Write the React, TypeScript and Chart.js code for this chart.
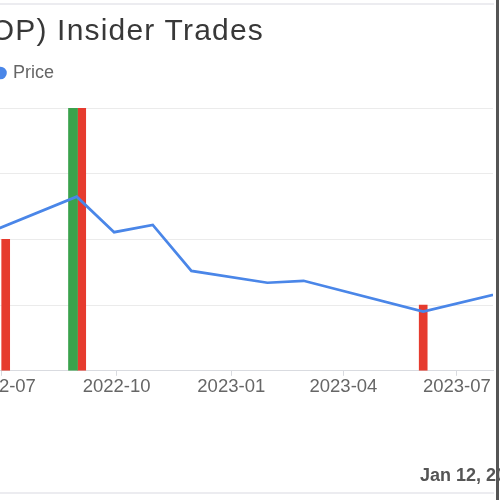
import React, { useEffect, useRef } from "react";
import { Chart, registerables } from "chart.js";

Chart.register(...registerables);

// ---- data ----
const priceDates = ["2022-06-03", "2022-08-30", "2022-09-29", "2022-10-30", "2022-11-30", "2023-01-30", "2023-02-28", "2023-06-04", "2023-08-15"];
const priceValues = [19.7, 26.5, 21.1, 22.2, 15.2, 13.4, 13.7, 9.0, 12.3];

const sellDates = ["2022-07-04", "2022-09-03", "2023-06-04"];
const sellValues = [20, 40, 10];

const buyDates = ["2022-08-27"];
const buyValues = [40];

const tickDates = ["2022-07-01", "2022-10-01", "2023-01-01", "2023-04-01", "2023-07-01"];
const tickLabels = ["2022-07", "2022-10", "2023-01", "2023-04", "2023-07"];

const xMinDate = "2022-06-19";
const xMaxDate = "2023-07-30";

const titleText = "OceanPal Inc (OP) Insider Trades";
const footerText = "Jan 12, 2024";

// ---- helpers ----
const FONT = "'Liberation Sans', Arial, Helvetica, sans-serif";
const dayNum = (s: string) => {
  const [y, m, d] = s.split("-").map(Number);
  return (Date.UTC(y, m - 1, d) - Date.UTC(2022, 0, 1)) / 86400000;
};
const tickLabelByDay: Record<number, string> = {};
tickDates.forEach((d, i) => (tickLabelByDay[dayNum(d)] = tickLabels[i]));

const CANVAS_LEFT = -53;
const CANVAS_W = 553;
const CANVAS_H = 500;

export default function App() {
  const ref = useRef<HTMLCanvasElement | null>(null);

  useEffect(() => {
    if (!ref.current) return;
    const legendGap = {
      id: "legendGap",
      beforeInit(chart: any) {
        const legend = chart.legend;
        if (!legend) return;
        const orig = legend.fit;
        legend.fit = function () {
          orig.bind(legend)();
          this.height += 16;
        };
      },
    };
    const chart = new Chart(ref.current, {
      type: "bar",
      data: {
        datasets: [
          {
            type: "line",
            label: "Price",
            data: priceDates.map((d, i) => ({ x: dayNum(d), y: priceValues[i] })),
            borderColor: "#4a86e8",
            backgroundColor: "#4a86e8",
            borderWidth: 2.7,
            pointRadius: 0,
            pointStyle: "circle",
            tension: 0,
            order: 0,
          } as any,
          {
            type: "bar",
            label: "Buy",
            data: buyDates.map((d, i) => ({ x: dayNum(d), y: buyValues[i] })),
            backgroundColor: "#3aa24c",
            barThickness: 9,
            grouped: false,
            order: 1,
          } as any,
          {
            type: "bar",
            label: "Sell",
            data: sellDates.map((d, i) => ({ x: dayNum(d), y: sellValues[i] })),
            backgroundColor: "#e63b2e",
            barThickness: 8,
            grouped: false,
            order: 2,
          } as any,
        ],
      },
      options: {
        animation: false,
        responsive: false,
        maintainAspectRatio: false,
        layout: { padding: { left: 40, right: 7, top: 54, bottom: 102 } },
        plugins: {
          title: { display: false },
          tooltip: { enabled: false },
          legend: {
            display: true,
            align: "start",
            labels: {
              usePointStyle: true,
              pointStyle: "circle",
              boxWidth: 7,
              boxHeight: 7,
              padding: 10,
              color: "#666",
              font: { size: 18, family: FONT },
              filter: (item: any) => item.text === "Price",
            },
          },
        },
        scales: {
          x: {
            type: "linear",
            offset: false,
            min: dayNum(xMinDate),
            max: dayNum(xMaxDate),
            afterBuildTicks: (axis: any) => {
              axis.ticks = tickDates.map((d) => ({ value: dayNum(d) }));
            },
            grid: { offset: false, drawOnChartArea: false, drawTicks: true, tickLength: 5, color: "#d9dbe0" },
            border: { display: true, color: "#d9dbe0" },
            ticks: {
              padding: 0,
              color: "#666",
              autoSkip: false,
              maxRotation: 0,
              font: { size: 18.5, family: FONT },
              callback: (v: any) => tickLabelByDay[Number(v)] ?? "",
            },
          },
          y: {
            min: 0,
            max: 40,
            ticks: { display: false, stepSize: 10 },
            grid: { drawTicks: false, color: "#ebebeb" },
            border: { display: false },
          },
        },
      } as any,
      plugins: [legendGap],
    });
    return () => chart.destroy();
  }, []);

  return (
    <div
      style={{
        position: "fixed",
        left: 0,
        top: 0,
        width: 500,
        height: 500,
        overflow: "hidden",
        background: "#fff",
      }}
    >
      <canvas
        ref={ref}
        width={CANVAS_W}
        height={CANVAS_H}
        style={{ position: "absolute", left: CANVAS_LEFT, top: 0, width: CANVAS_W, height: CANVAS_H }}
      />
      <div
        style={{
          position: "absolute",
          right: 236,
          top: 12,
          whiteSpace: "nowrap",
          fontFamily: FONT,
          fontSize: 30,
          letterSpacing: "1.2px",
          lineHeight: "36px",
          color: "#383838",
        }}
      >
        {titleText}
      </div>
      <div
        style={{
          position: "absolute",
          left: 420,
          top: 466,
          whiteSpace: "nowrap",
          fontFamily: FONT,
          fontSize: 18,
          fontWeight: "bold",
          lineHeight: "18px",
          color: "#555",
        }}
      >
        {footerText}
      </div>
      <div style={{ position: "absolute", left: 0, top: 3, width: 494, height: 2, background: "#ececf0" }} />
      <div style={{ position: "absolute", left: 0, top: 492, width: 494, height: 2, background: "#ececf0" }} />
      <div style={{ position: "absolute", left: 496, top: 0, width: 3, height: 500, background: "#555" }} />
    </div>
  );
}
